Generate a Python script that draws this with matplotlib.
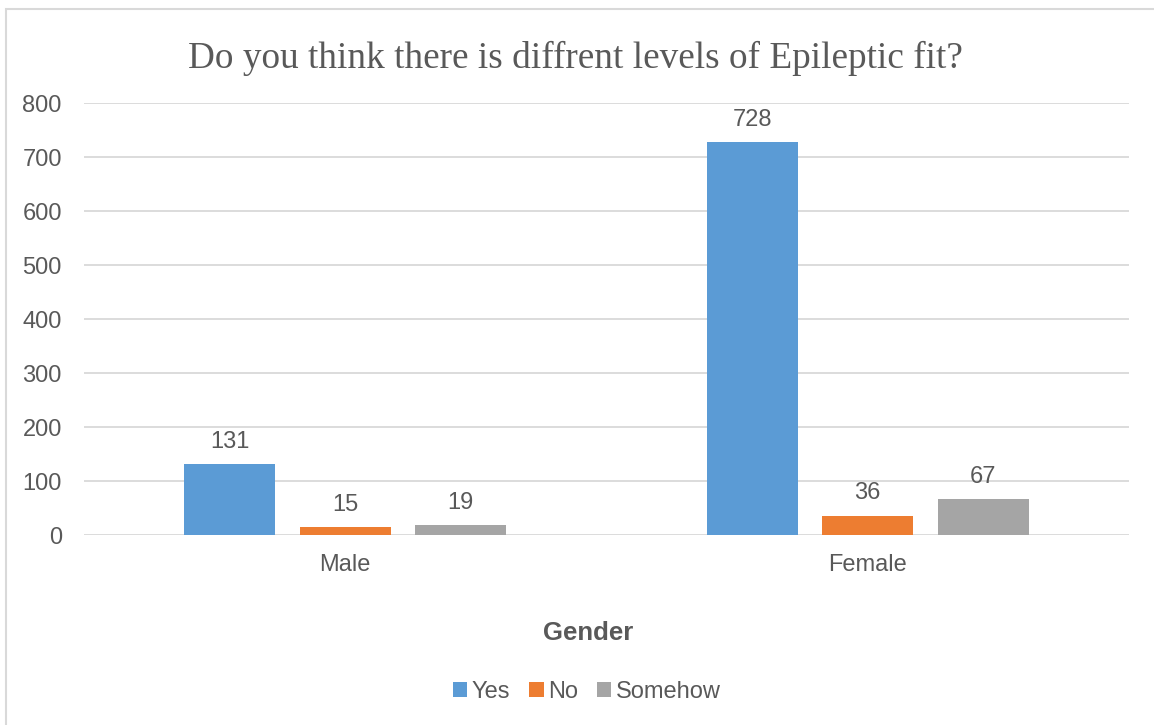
import numpy as np
import matplotlib.pyplot as plt
from matplotlib.patches import Rectangle

# chart data
genders = ["Male", "Female"]
series_names = ["Yes", "No", "Somehow"]
yes_counts = [131, 728]
no_counts = [15, 36]
somehow_counts = [19, 67]

colors = ["#5B9BD5", "#ED7D31", "#A5A5A5"]
text_col = "#595959"

plt.rcParams['font.family'] = ['Liberation Sans', 'DejaVu Sans']

fig = plt.figure(figsize=(11.54, 7.25), dpi=100)
ax = fig.add_axes([84/1154, 1 - 535/725, 1045/1154, 432/725])

# outer frame (right and bottom edges run off the image)
fig.patches.append(Rectangle((6/1154, -0.02), 1.1, 1 - 9/725 + 0.02,
                             transform=fig.transFigure, fill=False,
                             edgecolor="#D9D9D9", lw=1.5, clip_on=False))

x = np.arange(len(genders))
width = 0.174
step = 0.221
for i, (name, vals) in enumerate(zip(series_names, [yes_counts, no_counts, somehow_counts])):
    bars = ax.bar(x + (i - 1) * step, vals, width, color=colors[i], label=name, zorder=3)
    ax.bar_label(bars, padding=8, fontsize=17, color=text_col)

ax.set_xlim(-0.5, 1.5)
ax.set_ylim(0, 800)
ax.set_yticks(range(0, 801, 100))
ax.set_xticks(x)
ax.set_xticklabels(genders)
ax.tick_params(axis='both', length=0, labelsize=17, labelcolor=text_col)
ax.tick_params(axis='x', pad=13.5)
ax.tick_params(axis='y', pad=16)
ax.grid(axis='y', color="#D9D9D9", lw=1.3, zorder=0)
for s in ax.spines.values():
    s.set_visible(False)

fig.text(575/1154, 1 - 58/725, "Do you think there is diffrent levels of Epileptic fit?",
         family="Liberation Serif", fontsize=26.8, color=text_col, ha='center', va='center')
fig.text(588/1154, 1 - 633/725, "Gender", fontsize=18.5, fontweight='bold', color=text_col,
         ha='center', va='center')

fig.legend(loc='center', bbox_to_anchor=(587/1154, 1 - 692/725), ncol=3, frameon=False,
           fontsize=17, handlelength=0.6, handleheight=0.6, handletextpad=0.2,
           columnspacing=0.8, labelcolor=text_col)

fig.savefig("out.png", dpi=100)
